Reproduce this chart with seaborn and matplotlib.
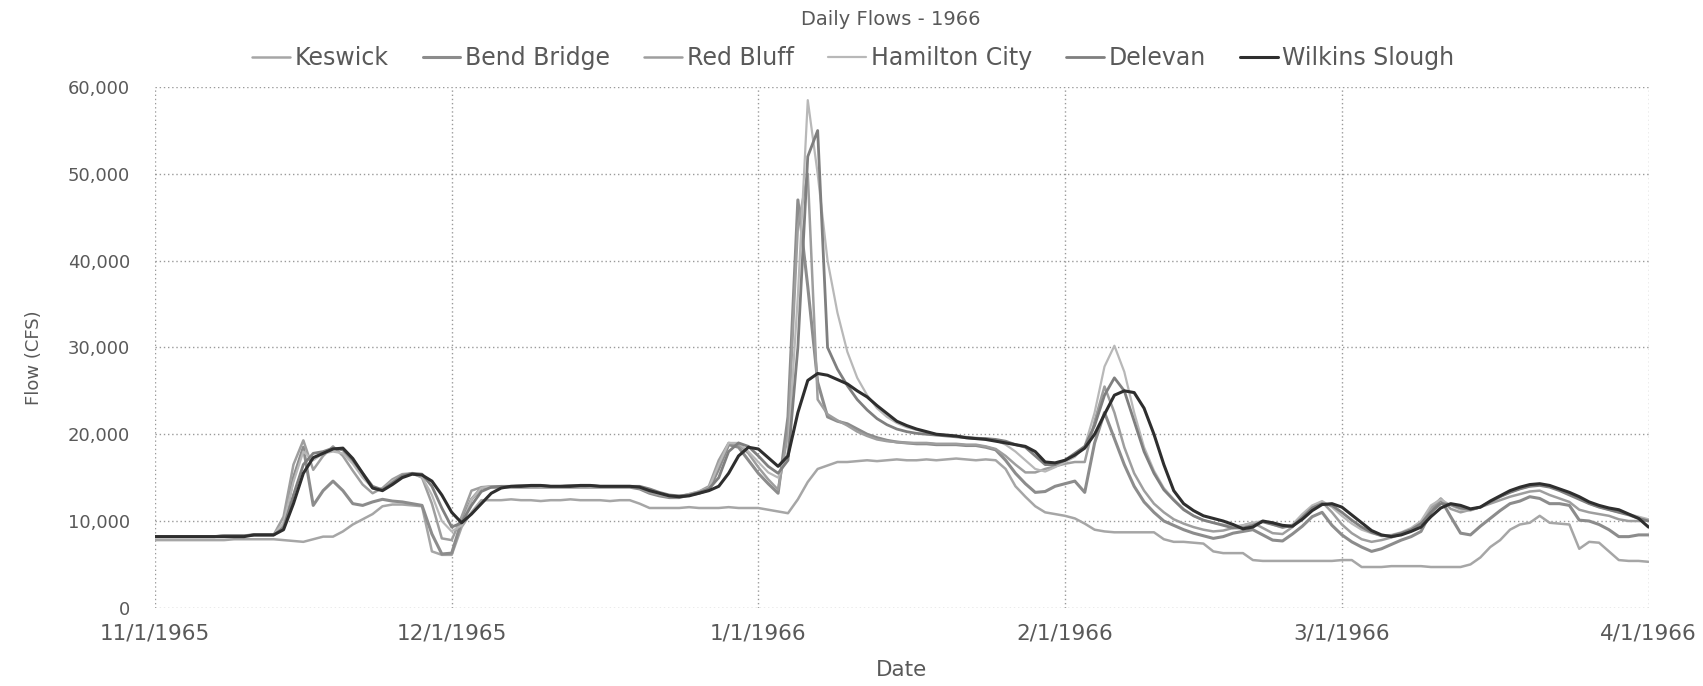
import matplotlib
matplotlib.use("Agg")
import matplotlib.pyplot as plt
import seaborn as sns
import pandas as pd
import numpy as np

# ---- data (flows in thousands of CFS, daily 11/1/1965 .. 4/1/1966) ----
start_date = "1965-11-01"
end_date = "1966-04-01"
series_names = ["Keswick", "Bend Bridge", "Red Bluff", "Hamilton City", "Delevan", "Wilkins Slough"]

keswick_k = [
    7.8, 7.8, 7.8, 7.8, 7.8, 7.8, 7.8, 7.8, 7.9, 7.9, 7.9, 7.9, 7.9, 7.8, 7.7, 7.6, 7.9, 8.2, 8.2, 8.8,
    9.6, 10.2, 10.8, 11.7, 11.9, 11.9, 11.8, 11.7, 6.5, 6.1,
    6.1, 9.3, 11.0, 12.4, 12.4, 12.4, 12.5, 12.4, 12.4, 12.3, 12.4, 12.4, 12.5, 12.4, 12.4, 12.4, 12.3, 12.4, 12.4, 12.0,
    11.5, 11.5, 11.5, 11.5, 11.6, 11.5, 11.5, 11.5, 11.6, 11.5, 11.5,
    11.5, 11.3, 11.1, 10.9, 12.5, 14.5, 16.0, 16.4, 16.8, 16.8, 16.9, 17.0, 16.9, 17.0, 17.1, 17.0, 17.0, 17.1, 17.0, 17.1,
    17.2, 17.1, 17.0, 17.1, 17.0, 16.0, 14.0, 12.8, 11.7, 11.0, 10.8,
    10.6, 10.3, 9.7, 9.0, 8.8, 8.7, 8.7, 8.7, 8.7, 8.7, 7.9, 7.6, 7.6, 7.5, 7.4, 6.5, 6.3, 6.3, 6.3, 5.5,
    5.4, 5.4, 5.4, 5.4, 5.4, 5.4, 5.4, 5.4,
    5.5, 5.5, 4.7, 4.7, 4.7, 4.8, 4.8, 4.8, 4.8, 4.7, 4.7, 4.7, 4.7, 5.0, 5.8, 7.0, 7.8, 9.0, 9.6, 9.8,
    10.6, 9.8, 9.7, 9.6, 6.8, 7.6, 7.5, 6.5, 5.5, 5.4, 5.4,
    5.3,
]
bend_bridge_k = [
    8.2, 8.2, 8.2, 8.2, 8.2, 8.2, 8.2, 8.3, 8.3, 8.3, 8.4, 8.4, 8.4, 9.5, 15.0, 18.5, 11.8, 13.5, 14.6, 13.5,
    12.0, 11.8, 12.2, 12.5, 12.3, 12.2, 12.0, 11.8, 8.5, 6.2,
    6.3, 10.0, 12.5, 13.8, 13.9, 13.9, 13.9, 13.9, 13.9, 13.9, 13.9, 13.9, 13.9, 13.9, 13.9, 13.9, 13.9, 13.9, 13.9, 13.7,
    13.2, 12.9, 12.7, 12.7, 13.0, 13.2, 13.6, 16.0, 18.8, 18.5, 17.0,
    15.5, 14.3, 13.2, 22.0, 47.0, 37.0, 26.0, 22.0, 21.5, 21.2, 20.6, 20.0, 19.6, 19.3, 19.1, 19.0, 18.9, 18.9, 18.8, 18.8,
    18.8, 18.7, 18.7, 18.5, 18.2, 17.0, 15.5, 14.3, 13.3, 13.4, 14.0,
    14.3, 14.6, 13.3, 19.0, 22.5, 19.5, 16.5, 14.0, 12.2, 11.0, 10.0, 9.5, 9.0, 8.6, 8.3, 8.0, 8.2, 8.6, 8.8, 9.0,
    8.4, 7.8, 7.7, 8.5, 9.4, 10.5, 11.0, 9.5,
    8.4, 7.6, 7.0, 6.5, 6.8, 7.3, 7.8, 8.2, 8.8, 11.0, 12.5, 10.5, 8.6, 8.4, 9.4, 10.3, 11.2, 12.0, 12.3, 12.8,
    12.6, 12.0, 12.0, 11.8, 10.1, 10.0, 9.6, 9.0, 8.2, 8.2, 8.4,
    8.4,
]
red_bluff_k = [
    8.2, 8.2, 8.2, 8.2, 8.2, 8.2, 8.2, 8.3, 8.3, 8.3, 8.4, 8.4, 8.4, 10.5, 16.5, 19.3, 15.9, 17.5, 18.6, 17.5,
    15.8, 14.2, 13.2, 13.8, 14.8, 15.4, 15.5, 15.0, 12.0, 8.0,
    7.8, 10.5, 13.5, 13.9, 14.0, 14.0, 14.0, 14.0, 14.0, 14.0, 14.0, 14.0, 14.0, 14.0, 14.0, 14.0, 14.0, 14.0, 14.0, 13.8,
    13.3, 13.0, 12.8, 12.8, 13.1, 13.4, 14.0, 17.0, 19.0, 18.8, 17.8,
    16.2, 14.8, 13.6, 20.0, 44.0, 50.0, 24.0, 22.3, 21.6, 21.0, 20.3, 19.8, 19.4, 19.2, 19.1, 19.0, 19.0, 19.0, 18.9, 18.9,
    18.9, 18.8, 18.8, 18.6, 18.3, 17.5, 16.5, 15.6, 15.6, 16.0, 16.3,
    16.6, 16.8, 16.8, 21.5, 25.5, 22.5, 18.5, 15.5, 13.5, 12.0, 11.0, 10.2, 9.7, 9.3, 9.0, 8.8, 8.9, 9.2, 9.5, 9.8,
    9.2, 8.6, 8.5, 9.3, 10.5, 11.6, 12.2, 11.0,
    9.6, 8.6, 7.9, 7.6, 7.8, 8.1, 8.5, 9.0, 9.8, 11.5, 12.6, 11.4, 11.0, 11.3, 11.6, 12.0, 12.4, 12.8, 13.1, 13.4,
    13.5, 13.0, 12.6, 12.2, 11.3, 11.0, 10.8, 10.6, 10.2, 10.0, 10.0,
    10.1,
]
hamilton_city_k = [
    8.2, 8.2, 8.2, 8.2, 8.2, 8.2, 8.2, 8.3, 8.3, 8.3, 8.4, 8.4, 8.4, 9.8, 14.5, 18.0, 17.0, 17.8, 18.0, 17.8,
    16.6, 15.0, 13.8, 13.6, 14.6, 15.2, 15.4, 15.1, 13.0, 10.0,
    8.8, 9.5, 12.5, 13.8, 14.0, 14.0, 14.0, 14.1, 14.1, 14.0, 14.0, 14.0, 14.1, 14.1, 14.0, 14.0, 14.0, 14.0, 14.0, 13.9,
    13.5, 13.1, 12.9, 12.9, 13.1, 13.4, 13.8, 16.5, 19.0, 19.0, 18.0,
    16.8, 15.6, 15.0, 18.0, 36.0, 58.5, 50.0, 40.0, 34.0, 29.5, 26.5, 24.5, 23.0, 22.0, 21.3, 20.8, 20.5, 20.2, 20.0, 19.9,
    19.8, 19.7, 19.6, 19.5, 19.3, 18.8, 18.0, 17.0, 16.0, 15.7, 16.2,
    16.8, 17.4, 18.6, 22.5, 27.8, 30.2, 27.2, 22.5, 18.5, 15.8, 13.8, 12.5, 11.4, 10.6, 10.1, 9.8, 9.6, 9.4, 9.5, 9.8,
    10.0, 9.6, 9.2, 9.6, 10.8, 11.8, 12.3, 11.6,
    10.6, 9.7, 9.0, 8.6, 8.3, 8.4, 8.7, 9.2, 10.0, 11.8, 12.5, 11.8, 11.3, 11.2, 11.6, 12.2, 12.8, 13.3, 13.7, 14.0,
    14.2, 14.0, 13.6, 13.2, 12.6, 12.0, 11.6, 11.3, 11.0, 10.8, 10.5,
    10.2,
]
delevan_k = [
    8.2, 8.2, 8.2, 8.2, 8.2, 8.2, 8.2, 8.3, 8.3, 8.3, 8.4, 8.4, 8.4, 9.2, 13.0, 16.5, 17.8, 18.0, 18.4, 18.2,
    17.0, 15.5, 14.0, 13.6, 14.4, 15.2, 15.5, 15.4, 14.0, 11.5,
    9.3, 9.8, 11.8, 13.4, 13.9, 14.0, 14.0, 14.1, 14.1, 14.1, 14.0, 14.0, 14.1, 14.1, 14.1, 14.0, 14.0, 14.0, 14.0, 14.0,
    13.7, 13.3, 13.0, 12.9, 13.0, 13.3, 13.7, 15.0, 18.0, 19.0, 18.6,
    17.5, 16.3, 15.5, 17.0, 30.0, 52.0, 55.0, 30.0, 27.5, 25.6, 24.0, 22.8, 21.8, 21.1, 20.6, 20.3, 20.1, 20.0, 19.9, 19.8,
    19.7, 19.6, 19.5, 19.5, 19.4, 19.2, 18.8, 18.5, 17.5, 16.5, 16.5,
    17.0, 17.8, 18.6, 21.0, 24.5, 26.5, 25.0, 21.5, 18.0, 15.5, 13.6, 12.4, 11.3, 10.6, 10.1, 9.8, 9.5, 9.2, 9.2, 9.5,
    9.9, 9.6, 9.3, 9.4, 10.4, 11.5, 12.0, 11.8,
    11.0, 10.1, 9.3, 8.7, 8.3, 8.3, 8.6, 9.0, 9.7, 11.0, 12.0, 11.9, 11.5, 11.3, 11.6, 12.2, 12.8, 13.3, 13.7, 14.0,
    14.1, 13.9, 13.5, 13.0, 12.5, 12.0, 11.6, 11.3, 11.0, 10.7, 10.3,
    10.0,
]
wilkins_slough_k = [
    8.2, 8.2, 8.2, 8.2, 8.2, 8.2, 8.2, 8.2, 8.2, 8.2, 8.4, 8.4, 8.4, 9.0, 12.0, 15.5, 17.3, 17.8, 18.3, 18.4,
    17.2, 15.5, 13.8, 13.5, 14.2, 15.0, 15.4, 15.3, 14.6, 13.0,
    11.0, 9.8, 10.8, 12.0, 13.2, 13.8, 14.0, 14.0, 14.1, 14.1, 14.0, 14.0, 14.0, 14.1, 14.1, 14.0, 14.0, 14.0, 14.0, 13.9,
    13.5, 13.2, 12.9, 12.8, 12.9, 13.2, 13.5, 14.0, 15.5, 17.5, 18.5,
    18.3, 17.3, 16.3, 17.5, 22.5, 26.2, 27.0, 26.8, 26.3, 25.8, 25.0, 24.3, 23.3, 22.4, 21.5, 21.0, 20.6, 20.3, 20.0, 19.9,
    19.8, 19.6, 19.5, 19.4, 19.2, 19.0, 18.8, 18.6, 18.0, 16.8, 16.7,
    17.0, 17.6, 18.4, 20.0, 22.3, 24.5, 25.0, 24.8, 23.0, 20.0, 16.5, 13.5, 12.0, 11.2, 10.6, 10.3, 10.0, 9.6, 9.1, 9.3,
    10.0, 9.8, 9.5, 9.4, 10.2, 11.2, 11.9, 12.0,
    11.6, 10.7, 9.8, 8.9, 8.4, 8.2, 8.4, 8.8, 9.3, 10.5, 11.5, 12.0, 11.8, 11.4, 11.6, 12.3, 12.9, 13.5, 13.9, 14.2,
    14.3, 14.1, 13.7, 13.3, 12.8, 12.2, 11.8, 11.5, 11.3, 10.8, 10.3,
    9.3,
]

line_colors = ["#a6a6a6", "#8c8c8c", "#9e9e9e", "#b8b8b8", "#7f7f7f", "#2e2e2e"]
line_widths = [1.8, 2.2, 1.8, 1.6, 2.0, 2.2]

# ---- build a long table ----
dates = pd.date_range(start_date, end_date, freq="D")
all_series = [keswick_k, bend_bridge_k, red_bluff_k, hamilton_city_k, delevan_k, wilkins_slough_k]
frames = []
for name, vals in zip(series_names, all_series):
    frames.append(pd.DataFrame({"Date": dates, "Flow": np.array(vals) * 1000.0, "Station": name}))
df = pd.concat(frames, ignore_index=True)

sns.set_theme(style="white")
plt.rcParams["font.family"] = ["DejaVu Sans"]
text_color = "#595959"

fig = plt.figure(figsize=(17.03, 6.86), dpi=100)
ax = fig.add_axes([0.091, 0.114, 0.877, 0.759])

sns.lineplot(data=df, x="Date", y="Flow", hue="Station", hue_order=series_names,
             palette=dict(zip(series_names, line_colors)), ax=ax, legend=False)
for line, lw in zip(ax.get_lines(), line_widths):
    line.set_linewidth(lw)

ax.set_xlim(pd.Timestamp(start_date), pd.Timestamp(end_date))
ax.set_ylim(0, 60000)
ax.set_yticks(np.arange(0, 60001, 10000))
ax.yaxis.set_major_formatter(matplotlib.ticker.FuncFormatter(lambda v, p: f"{int(v):,}"))
month_ticks = pd.date_range(start_date, end_date, freq="MS")
ax.set_xticks(month_ticks)
ax.set_xticklabels([f"{d.month}/{d.day}/{d.year}" for d in month_ticks])

for s in ax.spines.values():
    s.set_visible(False)
ax.grid(True, which="major", axis="both", linestyle=(0, (1, 2)), color="#9a9a9a", linewidth=1.0)
ax.tick_params(axis="x", length=0, colors=text_color, labelsize=15.5, pad=11)
ax.tick_params(axis="y", length=0, colors=text_color, labelsize=13, pad=18)

ax.set_xlabel("Date", fontsize=15.5, color=text_color)
ax.set_ylabel("Flow (CFS)", fontsize=13, color=text_color)
ax.xaxis.set_label_coords(0.5, -0.10)
ax.yaxis.set_label_coords(-0.075, 0.48)

fig.text(0.523, 0.972, "Daily Flows - 1966", ha="center", va="center", fontsize=14, color=text_color)

handles = [plt.Line2D([0], [0], color=c, lw=lw) for c, lw in zip(line_colors, line_widths)]
fig.legend(handles, series_names, loc="center", bbox_to_anchor=(0.501, 0.915), ncol=6,
           frameon=False, fontsize=17, handlelength=1.6, handletextpad=0.2, columnspacing=1.45,
           labelcolor=text_color)

fig.savefig("out.png", dpi=100)
